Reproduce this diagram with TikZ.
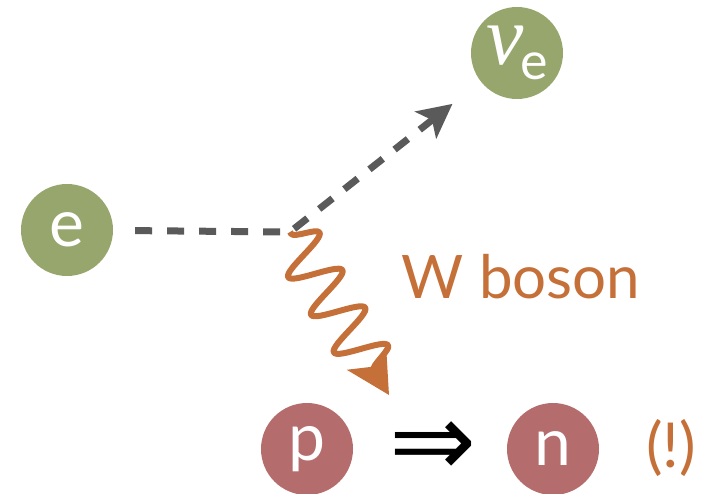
\documentclass[tikz,border=0pt]{standalone}
\usepackage{fontspec}
\setmainfont{Lato}
\newfontfamily\nufont{Liberation Serif}
\newfontfamily\symfont{DejaVu Sans}
\usetikzlibrary{arrows.meta,decorations.pathmorphing}
\definecolor{pgreen}{RGB}{151,166,108}
\definecolor{pred}{RGB}{181,108,108}
\definecolor{porange}{RGB}{197,112,56}
\definecolor{pgray}{RGB}{90,90,90}
\begin{document}
\begin{tikzpicture}[x=1pt,y=-1pt,
  particle/.style={circle, minimum size=92pt, inner sep=0pt, text=white,
    font=\fontsize{66}{66}\selectfont},
  lepton/.style={particle, fill=pgreen},
  hadron/.style={particle, fill=pred},
  scalarline/.style={pgray, line width=7pt, dash pattern=on 17pt off 15pt},
  wline/.style={porange, line width=6pt, line join=round, decorate,
    decoration={snake, amplitude=25pt, segment length=44pt, pre length=2pt, post length=18pt}},
  orangetext/.style={text=porange, inner sep=0pt}
]
\useasboundingbox (0,0) rectangle (706,493);
\node[lepton] (e) at (67,230) {e};
\node[lepton] (nu) at (517,53) {{\fontsize{84}{84}\nufont\itshape ν}\kern-3pt\raisebox{-15pt}{\fontsize{52}{52}\selectfont e}};
\node[hadron] (p) at (307,449) {p};
\node[hadron] (n) at (553,449) {n};
\node[inner sep=0pt, font={\fontsize{104}{104}\symfont}] (imp) at (433,449) {⇒};
\node[orangetext, font=\fontsize{62}{62}\selectfont] (excl) at (671,448) {(!)};
\node[orangetext, font=\fontsize{60}{60}\selectfont] (wlabel) at (521,277) {W boson};
\coordinate (v) at (290,232);
\coordinate (w) at (389,395);
\draw[scalarline, shorten <=22pt, shorten >=36pt, -{Stealth[length=34pt,width=34pt,inset=8pt]}] (e) -- (v) -- (nu);
\draw[wline, -{Stealth[length=43pt,width=45pt,inset=10pt]}] (v) -- (w);
\end{tikzpicture}
\end{document}
